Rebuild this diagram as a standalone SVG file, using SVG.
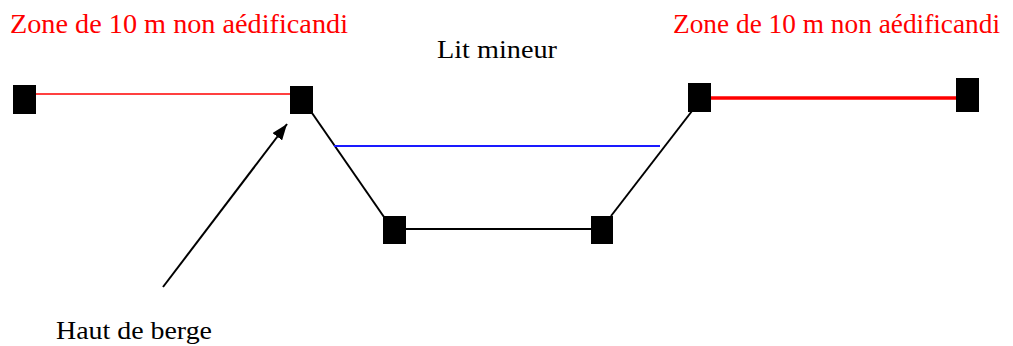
<svg xmlns="http://www.w3.org/2000/svg" width="1013" height="346" viewBox="0 0 1013 346">
  <style>
    .zone { fill: #ff0000; }
    .plain { fill: #000000; }
    .post { fill: #000000; }
    .bank { stroke: #000000; stroke-width: 2; fill: none; }
  </style>
  <defs>
    <marker id="arrowhead" viewBox="0 0 16 12" refX="16" refY="6" markerWidth="16" markerHeight="12" markerUnits="userSpaceOnUse" orient="auto">
      <path d="M0,0 L16,6 L0,12 z" fill="#000000"/>
    </marker>
  </defs>
  <rect width="1013" height="346" fill="#ffffff"/>

  <!-- connectors: setback lines, channel profile, water level, pointer -->
  <g id="connectors">
    <line x1="36" y1="94" x2="290" y2="94" stroke="#ff0000" stroke-width="1.5"/>
    <line x1="711" y1="98" x2="956" y2="98" stroke="#ff0000" stroke-width="3.5"/>
    <line class="bank" x1="312" y1="113" x2="384" y2="217"/>
    <line class="bank" x1="406" y1="229" x2="591" y2="229"/>
    <line class="bank" x1="611" y1="216" x2="692" y2="111"/>
    <line x1="334" y1="146" x2="660" y2="146" stroke="#1a1aff" stroke-width="2"/>
    <line x1="163" y1="287" x2="287" y2="124" stroke="#000000" stroke-width="2" marker-end="url(#arrowhead)"/>
  </g>

  <!-- posts -->
  <g id="post-left-outer"><rect class="post" x="13" y="85" width="23" height="29"/></g>
  <g id="post-left-bank"><rect class="post" x="290" y="86" width="23" height="28"/></g>
  <g id="post-bed-left"><rect class="post" x="383" y="216" width="23" height="28"/></g>
  <g id="post-bed-right"><rect class="post" x="591" y="216" width="22" height="28"/></g>
  <g id="post-right-bank"><rect class="post" x="688" y="83" width="23" height="29"/></g>
  <g id="post-right-outer"><rect class="post" x="956" y="78" width="23" height="34"/></g>

  <!-- labels -->
  <g id="label-zone-left"><text class="zone" font-family="Liberation Serif, Times New Roman, serif" font-size="28" x="10" y="33" textLength="338" lengthAdjust="spacingAndGlyphs">Zone de 10 m non aédificandi</text></g>
  <g id="label-zone-right"><text class="zone" font-family="Liberation Serif, Times New Roman, serif" font-size="28" x="673" y="33" textLength="327" lengthAdjust="spacingAndGlyphs">Zone de 10 m non aédificandi</text></g>
  <g id="label-lit-mineur"><text class="plain" font-family="Liberation Serif, Times New Roman, serif" font-size="26" x="437" y="58" textLength="120" lengthAdjust="spacingAndGlyphs">Lit mineur</text></g>
  <g id="label-haut-de-berge"><text class="plain" font-family="Liberation Serif, Times New Roman, serif" font-size="25" x="56" y="339" textLength="156" lengthAdjust="spacingAndGlyphs">Haut de berge</text></g>
</svg>
